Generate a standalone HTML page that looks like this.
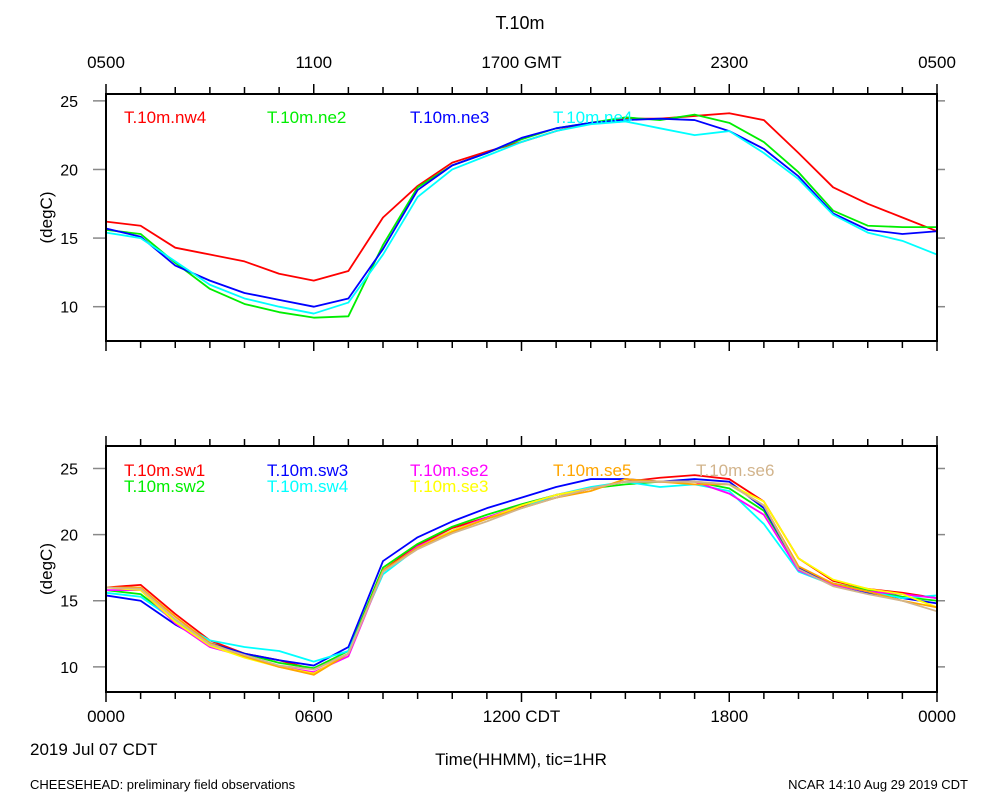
<!DOCTYPE html>
<html><head><meta charset="utf-8"><style>
body{margin:0;background:#fff}
svg{display:block;font-family:"Liberation Sans",sans-serif}
</style></head><body>
<svg id="c" width="1000" height="800">
<text x="520" y="29" font-size="18" text-anchor="middle">T.10m</text>
<text x="30" y="789" font-size="13">CHEESEHEAD: preliminary field observations</text>
<text x="968" y="789" font-size="13" text-anchor="end">NCAR 14:10 Aug 29 2019 CDT</text>
<text x="30" y="755" font-size="17">2019 Jul 07 CDT</text>
<text x="521" y="765" font-size="17" text-anchor="middle">Time(HHMM), tic=1HR</text>
</svg>
<script>
const hours=[0,1,2,3,4,5,6,7,8,9,10,11,12,13,14,15,16,17,18,19,20,21,22,23,24];
const topTicks=["0500","1100","1700 GMT","2300","0500"];
const bottomTicks=["0000","0600","1200 CDT","1800","0000"];
const yTicks=[10,15,20,25];
const topNames=["T.10m.nw4","T.10m.ne2","T.10m.ne3","T.10m.ne4"];
const nw4=[16.2,15.9,14.3,13.8,13.3,12.4,11.9,12.6,16.5,18.8,20.5,21.3,22.0,22.8,23.4,23.7,23.7,23.9,24.1,23.6,21.2,18.7,17.5,16.5,15.5];
const ne2=[15.6,15.3,13.2,11.3,10.2,9.6,9.2,9.3,14.5,18.7,20.3,21.2,22.2,23.0,23.4,23.8,23.6,24.0,23.4,22.0,19.8,17.0,15.9,15.8,15.8];
const ne3=[15.7,15.1,13.0,11.9,11.0,10.5,10.0,10.6,14.2,18.5,20.3,21.2,22.3,23.0,23.4,23.6,23.7,23.6,22.8,21.5,19.5,16.8,15.6,15.3,15.5];
const ne4=[15.4,15.0,13.3,11.6,10.6,10.0,9.5,10.3,13.8,18.0,20.0,21.0,22.0,22.8,23.3,23.5,23.0,22.5,22.8,21.2,19.3,16.7,15.4,14.8,13.8];
const botNames=["T.10m.sw1","T.10m.sw2","T.10m.sw3","T.10m.sw4","T.10m.se2","T.10m.se3","T.10m.se5","T.10m.se6"];
const sw1=[16.0,16.2,14.0,12.0,11.0,10.5,9.8,11.0,17.3,19.2,20.5,21.3,22.1,22.8,23.5,24.0,24.3,24.5,24.2,22.5,18.2,16.5,15.9,15.6,15.2];
const sw2=[15.8,15.5,13.5,11.8,11.0,10.3,9.9,11.2,17.5,19.3,20.6,21.5,22.3,23.0,23.5,23.8,24.0,24.0,23.5,21.8,17.5,16.3,15.8,15.3,15.0];
const sw3=[15.4,15.0,13.2,11.8,11.0,10.5,10.1,11.5,18.0,19.8,21.0,22.0,22.8,23.6,24.2,24.2,24.0,24.2,24.0,22.0,17.5,16.2,15.6,15.2,14.8];
const sw4=[15.6,15.3,13.5,12.0,11.5,11.2,10.4,11.2,17.0,19.0,20.3,21.2,22.0,23.0,23.6,24.0,23.6,23.8,23.3,20.8,17.2,16.2,15.7,15.2,15.4];
const se2=[15.8,15.8,13.3,11.5,10.8,10.0,9.6,10.8,17.2,19.1,20.3,21.3,22.2,23.0,23.5,24.0,24.0,24.0,23.1,21.5,17.3,16.2,15.7,15.5,15.2];
const se3=[16.0,15.8,13.4,11.6,10.7,10.0,9.5,11.0,17.2,19.0,20.3,21.2,22.2,23.0,23.5,24.0,24.0,24.0,23.8,22.5,18.2,16.6,15.9,15.5,14.5];
const se5=[16.0,16.0,13.8,11.8,10.8,10.0,9.4,11.0,17.3,19.0,20.2,21.2,22.0,22.8,23.3,24.2,24.0,23.8,23.8,22.2,17.6,16.3,15.7,15.0,14.5];
const se6=[16.0,15.9,13.6,11.7,10.9,10.1,9.8,11.0,17.2,18.9,20.1,21.0,22.0,22.8,23.5,24.0,24.0,24.0,23.8,22.2,17.4,16.1,15.5,15.0,14.2];

const svg=document.getElementById('c');
const NS='http://www.w3.org/2000/svg';
function mk(tag,attrs,parent){const e=document.createElementNS(NS,tag);for(const k in attrs)e.setAttribute(k,attrs[k]);(parent||svg).appendChild(e);return e;}
const X0=106,X1=937;
const x=h=>X0+(X1-X0)*h/24;

function panel(top,bottom,ymin,ymax,series,colors,names,legendPos,name,tickLabels,tickLabelY){
  const g=mk('g',{});
  
  
  const y=v=>bottom-(bottom-top)*(v-ymin)/(ymax-ymin);
  for(let i=0;i<=24;i++){
    const len=i%6===0?10:7;
    const t1=mk('line',{x1:x(i),x2:x(i),y1:bottom,y2:bottom+len,stroke:'#000','stroke-width':1.5},g);
    
    
    const t2=mk('line',{x1:x(i),x2:x(i),y1:top,y2:top-len,stroke:'#000','stroke-width':1.5},g);
    
    
  }
  yTicks.forEach(v=>{
    const a=mk('line',{x1:X0-13,x2:X0,y1:y(v),y2:y(v),stroke:'#888','stroke-width':1.5},g);
    
    
    const b=mk('line',{x1:X1,x2:X1+8,y1:y(v),y2:y(v),stroke:'#888','stroke-width':1.5},g);
    
    
    const t=mk('text',{x:X0-28,y:y(v)+6,'font-size':16,'text-anchor':'end'},g);
    t.textContent=v;
    
    
  });
  const yl=mk('text',{x:52,y:(top+bottom)/2,'font-size':17,'text-anchor':'middle',transform:`rotate(-90 52 ${(top+bottom)/2})`},g);
  yl.textContent='(degC)';
  
  
  tickLabels.forEach((s,i)=>{
    const t=mk('text',{x:x(i*6),y:tickLabelY,'font-size':17,'text-anchor':'middle'},g);
    t.textContent=s;
    
    
  });
  series.forEach((d,k)=>{
    const p=mk('polyline',{points:d.map((v,i)=>x(hours[i])+','+y(v)).join(' '),fill:'none',stroke:colors[k],'stroke-width':1.8,'stroke-linejoin':'round'},g);
    
    
    const lp=legendPos[k];
    const t=mk('text',{x:lp[0],y:lp[1],'font-size':17,fill:colors[k]},g);
    t.textContent=names[k];
    
    
  });
  const r=mk('rect',{x:X0,y:top,width:X1-X0,height:bottom-top,fill:'none',stroke:'#000','stroke-width':2},g);
  
  
}
panel(94,341,7.5,25.5,[nw4,ne2,ne3,ne4],['#ff0000','#00ee00','#0000ff','#00ffff'],topNames,
  [[124,123],[267,123],[410,123],[553,123]],'top-panel',topTicks,68);
panel(446,692,8.1,26.7,[sw1,sw2,sw3,sw4,se2,se3,se5,se6],['#ff0000','#00ee00','#0000ff','#00ffff','#ff00ff','#ffff00','#ffa500','#d2b48c'],botNames,
  [[124,476],[124,492],[267,476],[267,492],[410,476],[410,492],[553,476],[696,476]],'bottom-panel',bottomTicks,722);
</script>
</body></html>
